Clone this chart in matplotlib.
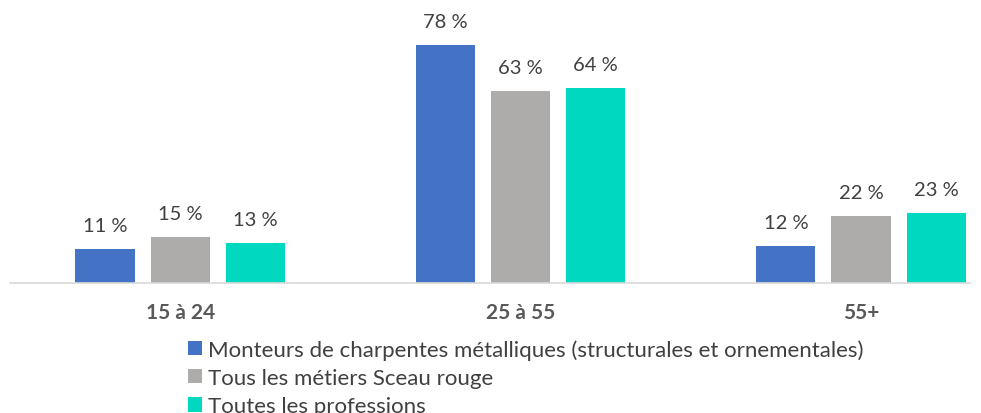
import matplotlib.pyplot as plt
import numpy as np

plt.rcParams['font.family'] = ['Lato', 'DejaVu Sans']

# Data
groups = ['15 à 24', '25 à 55', '55+']
series = ['Monteurs de charpentes métalliques (structurales et ornementales)',
          'Tous les métiers Sceau rouge',
          'Toutes les professions']
monteurs = [11, 78, 12]
sceau_rouge = [15, 63, 22]
toutes = [13, 64, 23]
colors = ['#4472C4', '#AEABAB', '#00D9BF']

fig = plt.figure(figsize=(9.81, 4.14), dpi=100)
ax = fig.add_axes([10 / 981, 130 / 414, 960 / 981, 270 / 414])

x = np.arange(len(groups))
width = 0.174
pitch = 0.221
for i, (vals, name, c) in enumerate(zip([monteurs, sceau_rouge, toutes], series, colors)):
    bars = ax.bar(x + (i - 1) * pitch, vals, width, color=c, label=name)
    for b, v in zip(bars, vals):
        ax.text(b.get_x() + b.get_width() / 2, v + 5, f'{v} %', ha='center', va='bottom',
                fontsize=14.5, color='#404040')

ax.set_xlim(-0.5, 2.32)
ax.set_ylim(0, 270 / 3.05)
ax.set_xticks(x)
ax.set_xticklabels(groups, fontsize=15, fontweight='bold', color='#595959')
ax.tick_params(axis='x', length=0, pad=14)
ax.set_yticks([])
for s in ['top', 'right', 'left']:
    ax.spines[s].set_visible(False)
ax.spines['bottom'].set_color('#D9D9D9')
ax.spines['bottom'].set_linewidth(1.2)

fig.legend(loc='upper left', bbox_to_anchor=(188 / 981, 1 - 340 / 414), frameon=False,
           fontsize=16, labelcolor='#404040', handlelength=0.62, handleheight=0.62,
           handletextpad=0.3, labelspacing=0.38, borderaxespad=0, borderpad=0)

fig.savefig('out.png', dpi=100)
